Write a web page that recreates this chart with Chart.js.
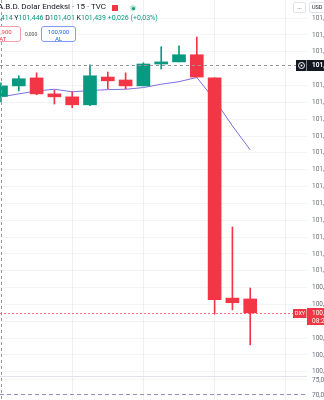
<!DOCTYPE html>
<html>
<head>
<meta charset="utf-8">
<script src="https://cdn.jsdelivr.net/npm/chart.js@4.4.1/dist/chart.umd.min.js"></script>
<style>
  html, body { margin: 0; padding: 0; background: #fff; overflow: hidden; width: 324px; height: 400px; }
  #wrap { position: relative; width: 324px; height: 400px; overflow: hidden; font-family: Roboto, "Noto Sans", sans-serif; }
  #chart { position: absolute; left: 0; top: 0; }
  .abs { position: absolute; white-space: nowrap; }
  .title { left: -2px; top: 2px; font-size: 8px; color: #131722; }
  .ohlc { left: -17px; top: 14px; font-size: 7px; color: #131722; }
  .ohlc b { font-weight: normal; color: #089981; }
  .btn { height: 16px; border-radius: 3px; background: #fff; text-align: center; font-size: 6px; line-height: 7px; padding-top: 1px; box-sizing: border-box; }
  .sat { left: -19px; top: 26px; width: 40px; border: 1px solid #f5a0a8; color: #f23645; }
  .al { left: 41px; top: 26px; width: 35px; border: 1px solid #7e9cf8; color: #2962ff; }
  .spread { left: 25px; top: 31px; font-size: 5px; color: #555; }
  .flag { left: 112px; top: 5px; width: 6px; height: 6px; background: #f23645; }
  .dot { left: 130px; top: 5px; width: 6px; height: 6px; border-radius: 50%; background: #b9e6d9; }
  .dot i { position: absolute; left: 1.5px; top: 1.5px; width: 3px; height: 3px; border-radius: 50%; background: #089981; }
  .menu { left: 293px; top: 2px; width: 13px; height: 11px; border: 1px solid #e0e3eb; border-radius: 2px; background: #fff; font-size: 6px; line-height: 9px; text-align: center; color: #131722; box-sizing: border-box; }
  .usd { left: 309px; top: 2px; width: 22px; height: 11px; border: 1px solid #e0e3eb; border-radius: 2px; background: #fff; font-size: 5.5px; line-height: 9px; padding-left: 2px; color: #131722; box-sizing: border-box; }
</style>
</head>
<body>
<div id="wrap">
  <canvas id="chart" width="350" height="400"></canvas>
  <div class="abs title">A.B.D. Dolar Endeksi · 15 · TVC</div>
  <div class="abs flag"></div>
  <div class="abs dot"><i></i></div>
  <div class="abs ohlc">A<b>101,414</b> Y<b>101,446</b> D<b>101,401</b> K<b>101,439</b> <b>+0,026 (+0,03%)</b></div>
  <div class="abs btn sat">100,900<br>SAT</div>
  <div class="abs spread">0,000</div>
  <div class="abs btn al">100,900<br>AL</div>
  <div class="abs menu">···</div>
  <div class="abs usd">USD</div>
</div>
<script>
// 15 minute candles, DXY (TVC)
const opens  = [101.414, 101.439, 101.458, 101.420, 101.413, 101.394, 101.460, 101.453, 101.439, 101.491, 101.496, 101.513, 101.458, 100.935, 100.933];
const highs  = [101.446, 101.463, 101.470, 101.429, 101.425, 101.489, 101.472, 101.470, 101.494, 101.532, 101.534, 101.555, 101.458, 101.104, 100.959];
const lows   = [101.401, 101.427, 101.418, 101.396, 101.387, 101.392, 101.432, 101.432, 101.439, 101.479, 101.496, 101.460, 100.897, 100.907, 100.824];
const closes = [101.439, 101.456, 101.420, 101.413, 101.394, 101.463, 101.451, 101.439, 101.491, 101.496, 101.513, 101.460, 100.931, 100.924, 100.900];
const maLine = [101.413, 101.420, 101.427, 101.431, 101.425, 101.428, 101.430, 101.431, 101.435, 101.443, 101.449, 101.459, 101.406, 101.344, 101.287];

const priceTicks = [101.60, 101.56, 101.52, 101.48, 101.44, 101.40, 101.36, 101.32, 101.28, 101.24, 101.20,
                    101.16, 101.12, 101.08, 101.04, 101.00, 100.96, 100.92, 100.88, 100.84, 100.80, 100.76];
const rsiTicks = [75, 70];
const hourLines = [4, 8, 12, 16];

const lastPrice = 100.900;
const crossPrice = 101.489;
const crossBar = 0;
const rsiLevel = 70;
const countdown = '08:21';

const GREEN = '#089981';
const RED = '#f23645';
const candleColor = i => closes[i] >= opens[i] ? GREEN : RED;
const fmt = (v, d) => v.toFixed(d).replace('.', ',');

const xMin = -0.056, xMax = 17.19;
const paneTop = 76.333;

const overlay = {
  id: 'overlay',
  beforeDatasetsDraw(chart) {
    const {ctx, chartArea: a, scales} = chart;
    const py = Math.round(scales.y.getPixelForValue(lastPrice)) + 0.5;
    ctx.save();
    ctx.lineWidth = 1;
    ctx.setLineDash([2, 2]);
    ctx.strokeStyle = 'rgba(242,54,69,0.7)';
    ctx.beginPath(); ctx.moveTo(a.left, py); ctx.lineTo(a.right, py); ctx.stroke();
    ctx.restore();
  },
  afterDraw(chart) {
    const {ctx, chartArea: a, scales} = chart;
    const font = 'Roboto, "Noto Sans", sans-serif';
    ctx.save();
    // rsi band level in lower pane
    const ry = Math.floor(scales.y2.getPixelForValue(rsiLevel)) + 0.5;
    ctx.lineWidth = 1;
    ctx.setLineDash([4, 3]);
    ctx.strokeStyle = '#9491bd';
    ctx.beginPath(); ctx.moveTo(a.left, ry); ctx.lineTo(a.right - 2, ry); ctx.stroke();
    // crosshair
    const cx = Math.round(scales.x.getPixelForValue(crossBar)) + 0.5;
    const cy = Math.round(scales.y.getPixelForValue(crossPrice)) + 0.5;
    ctx.strokeStyle = '#9598a1';
    ctx.setLineDash([3, 3]);
    ctx.beginPath(); ctx.moveTo(cx, a.top); ctx.lineTo(cx, a.bottom); ctx.stroke();
    ctx.beginPath(); ctx.moveTo(a.left, cy); ctx.lineTo(a.right - 11, cy); ctx.stroke();
    ctx.setLineDash([]);
    // crosshair price label
    ctx.fillStyle = '#131722';
    ctx.fillRect(a.right - 11, cy - 5.5, 10.5, 11);
    ctx.fillRect(a.right, cy - 5.5, 50, 11);
    ctx.strokeStyle = '#fff';
    ctx.beginPath(); ctx.arc(a.right - 5.5, cy, 3, 0, Math.PI * 2); ctx.stroke();
    ctx.fillStyle = '#fff';
    ctx.beginPath(); ctx.arc(a.right - 5.5, cy, 1, 0, Math.PI * 2); ctx.fill();
    ctx.font = 'bold 6.5px ' + font;
    ctx.textBaseline = 'middle';
    ctx.fillText(fmt(crossPrice, 3), a.right + 5, cy);
    // last price labels
    const py = Math.round(scales.y.getPixelForValue(lastPrice)) + 0.5;
    ctx.fillStyle = RED;
    ctx.fillRect(a.right - 14, py - 4.5, 13.5, 9);
    ctx.fillRect(a.right, py - 5.5, 50, 17);
    ctx.fillStyle = '#fff';
    ctx.font = '5.5px ' + font;
    ctx.textAlign = 'center';
    ctx.fillText('DXY', a.right - 7, py);
    ctx.textAlign = 'left';
    ctx.font = '6.5px ' + font;
    ctx.fillText(fmt(lastPrice, 3), a.right + 5, py - 0.5);
    ctx.fillText(countdown, a.right + 5, py + 7.5);
    ctx.restore();
  }
};

const candleData = (arrA, arrB) => opens.map((_, i) => ({x: i, y: [arrA[i], arrB[i]]}));
const noPad = s => { s.paddingTop = 0; s.paddingBottom = 0; s.paddingLeft = 0; s.paddingRight = 0; };

new Chart(document.getElementById('chart'), {
  type: 'bar',
  data: {
    datasets: [
      {
        type: 'line',
        data: maLine.map((v, i) => ({x: i, y: v})),
        borderColor: '#7b6fe2',
        borderWidth: 1,
        pointRadius: 0,
        tension: 0,
        yAxisID: 'y',
        order: 4
      },
      {
        data: candleData(lows, highs),
        backgroundColor: ctx => candleColor(ctx.dataIndex),
        barThickness: 1,
        grouped: false,
        yAxisID: 'y',
        order: 3
      },
      {
        data: candleData(opens, closes),
        backgroundColor: ctx => candleColor(ctx.dataIndex),
        barThickness: 13,
        grouped: false,
        borderSkipped: false,
        yAxisID: 'y',
        order: 2
      }
    ]
  },
  options: {
    responsive: false,
    animation: false,
    devicePixelRatio: 1,
    layout: { padding: 0 },
    plugins: { legend: { display: false }, tooltip: { enabled: false } },
    scales: {
      x: {
        type: 'linear',
        offset: false,
        min: xMin,
        max: xMax,
        ticks: { display: false },
        border: { display: false },
        grid: { color: 'rgba(42,46,57,0.07)', drawTicks: false, offset: false },
        afterBuildTicks: s => { s.ticks = hourLines.map(v => ({value: v})); },
        afterFit: s => { s.height = 0; noPad(s); }
      },
      y: {
        position: 'right',
        stack: 'panes',
        stackWeight: 376,
        min: 100.750,
        max: 101.643,
        border: { display: false },
        grid: { color: 'rgba(42,46,57,0.05)', drawTicks: false },
        ticks: {
          autoSkip: false,
          padding: 5,
          color: '#6a6d78',
          font: { family: 'Roboto', size: 6.5 },
          callback: v => fmt(v, 3)
        },
        afterBuildTicks: s => { s.ticks = priceTicks.map(v => ({value: v})); },
        afterFit: s => { s.width = 43; noPad(s); }
      },
      y2: {
        position: 'right',
        stack: 'panes',
        stackWeight: 24,
        min: 68.333,
        max: paneTop,
        border: { display: false },
        grid: {
          color: ctx => ctx.tick && ctx.tick.value === paneTop ? '#e0e3eb' : 'rgba(42,46,57,0.04)',
          drawTicks: false
        },
        ticks: {
          autoSkip: false,
          padding: 5,
          color: '#6a6d78',
          font: { family: 'Roboto', size: 6.5 },
          callback: v => v === paneTop ? '' : fmt(v, 2)
        },
        afterBuildTicks: s => { s.ticks = [paneTop].concat(rsiTicks).map(v => ({value: v})); },
        afterFit: s => { s.width = 43; noPad(s); }
      }
    }
  },
  plugins: [overlay]
});
</script>
</body>
</html>
